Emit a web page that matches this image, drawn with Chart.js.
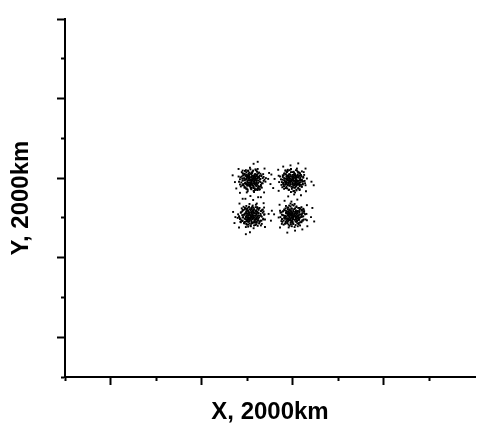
<!DOCTYPE html>
<html>
<head>
<meta charset="utf-8">
<script src="https://cdn.jsdelivr.net/npm/chart.js@4/dist/chart.umd.min.js"></script>
<style>
  html, body { margin: 0; padding: 0; background: #fff; }
  canvas { display: block; }
</style>
</head>
<body>
<canvas id="chart" width="479" height="430"></canvas>
<script>
// particle positions, one array per cloud, [x, y] in 2000 km units
const cloudNW = [
  [4.10,4.96],[4.14,4.92],[4.04,4.99],[4.18,5.02],[4.07,4.87],[4.21,4.94],[4.00,4.91],[4.11,5.06],[4.16,5.09],[4.03,5.05],
  [4.23,4.99],[3.97,4.96],[4.13,4.81],[4.06,4.80],[4.17,4.85],[4.02,4.82],[4.20,5.08],[3.99,5.09],[4.24,4.88],[3.96,4.89],
  [4.10,4.90],[4.13,5.01],[4.09,5.02],[4.17,4.95],[4.05,4.94],[4.14,5.05],[4.02,5.01],[4.21,5.05],[4.07,5.11],[4.18,4.81],
  [4.00,5.03],[4.11,4.85],[4.16,4.89],[4.06,4.95],[4.20,4.98],[4.03,4.88],[4.22,4.84],[3.98,4.85],[4.10,5.12],[4.14,4.78],
  [4.09,4.93],[4.18,5.10],[3.99,4.99],[4.12,4.96],[4.04,5.08],[4.24,5.03],[3.96,5.06],[4.17,5.00],[4.07,4.83],[4.21,4.80],
  [4.11,4.99],[4.02,4.94],[4.15,5.03],[4.06,5.02],[4.20,4.90],[4.00,4.81],[4.10,4.84],[4.22,5.09],[4.03,5.12],[4.14,4.87],
  [4.29,4.98],[3.90,4.94],[4.13,5.19],[4.09,4.72],[4.26,5.14],[3.93,5.11],[4.25,4.75],[3.94,4.76],[4.34,4.87],[3.85,5.02],
  [4.18,5.22],[4.01,4.67],[4.31,5.07],[3.89,4.82],[4.22,4.70],[3.97,5.20],[4.38,4.96],[3.82,4.91],[4.15,4.65],[4.06,5.26],
  [4.27,4.92],[3.94,4.99],[4.30,4.80],[3.91,5.07],[4.11,5.15],[4.10,4.76],[4.35,5.10],[3.86,4.79],[4.21,5.17],[3.98,4.73],
  [4.32,4.76],[3.88,5.15],[4.40,4.91],[3.81,5.04],[4.26,5.02],[3.95,4.87],[4.17,4.74],[4.02,5.18],[4.36,5.03],[3.84,4.84],
  [4.23,5.23],[3.99,4.64],[4.28,4.72],[3.90,5.19],[4.41,5.00],[4.46,4.98],[3.73,4.90],[4.14,5.36],[4.07,4.55],[4.38,5.24],
  [3.81,5.23],[4.37,4.64],[3.84,4.63],[4.51,4.85],[3.68,5.07],[4.23,5.41],[3.96,4.48],[4.48,5.13],[3.76,4.74],[4.30,4.52],
  [4.01,5.07],[4.21,5.08],[3.97,4.86],[4.22,4.84],[3.93,5.00],[4.28,4.97],[4.05,5.14],[4.14,4.75],[3.95,5.10],[4.24,5.12],
  [3.94,4.79],[4.25,4.80],[3.90,4.94],[4.29,4.90],[4.08,4.74],[4.12,5.17],[4.03,5.00],[4.16,4.98],[4.06,4.89],[4.15,4.91],
  [3.99,5.03],[4.19,5.04],[4.00,4.83],[4.20,4.86],[3.88,5.04],[4.31,5.05],[3.91,4.85],[4.30,4.83],[4.02,5.19],[4.19,5.20],
  [4.01,4.71],[4.17,4.70],[3.97,4.97],[4.24,4.94],[4.09,5.09],[4.11,4.82],[3.92,5.07],[4.27,5.06],[3.96,4.76],[4.23,4.75],
  [4.04,5.05],[4.17,5.09],[4.05,4.80],[4.16,4.85],[3.87,4.89],[4.34,5.00],[3.98,5.15],[4.22,5.16],[3.99,4.74],[4.21,4.72],
  [4.07,4.97],[4.12,4.95],[4.09,4.92],[4.13,4.98],[3.94,4.95],[4.26,5.02],[4.10,5.13],[4.07,4.77],[3.90,5.12],[4.29,5.11],
  [3.92,4.82],[4.28,4.78],[3.84,4.97],[4.36,4.93],[4.07,5.22],[4.14,4.68],[4.02,4.95],[4.18,4.96],[4.10,5.04],[4.09,4.87],
  [3.98,5.05],[4.23,5.01],[4.01,4.88],[4.20,4.89],[3.89,4.99],[4.32,4.87],[4.04,4.84],[4.15,5.06],[3.95,5.18],[4.26,4.71]
];
const cloudNE = [
  [5.01,4.95],[4.97,4.91],[5.04,5.01],[5.07,4.87],[4.92,4.98],[4.99,4.84],[4.96,5.05],[5.11,4.94],[5.14,4.89],[5.10,5.02],
  [5.04,4.82],[5.01,5.08],[4.86,4.92],[4.85,4.99],[4.90,4.88],[4.87,5.03],[5.13,4.85],[5.14,5.06],[4.93,4.81],[4.94,5.09],
  [4.95,4.95],[5.06,4.92],[5.07,4.96],[5.00,4.88],[4.99,5.00],[5.10,4.91],[5.06,5.03],[5.10,4.84],[5.16,4.98],[4.86,4.87],
  [5.08,5.05],[4.90,4.94],[4.94,4.89],[5.00,4.99],[5.03,4.85],[4.93,5.02],[4.89,4.83],[4.90,5.07],[5.17,4.95],[4.83,4.91],
  [4.98,4.96],[5.15,4.87],[5.04,5.06],[5.01,4.93],[5.13,5.01],[5.08,4.81],[5.11,5.09],[5.05,4.88],[4.88,4.98],[4.85,4.84],
  [5.04,4.94],[4.99,5.03],[5.08,4.90],[5.07,4.99],[4.95,4.85],[4.86,5.05],[4.89,4.95],[5.14,4.83],[5.17,5.02],[4.92,4.91],
  [5.03,4.76],[4.99,5.15],[5.24,4.92],[4.77,4.96],[5.19,4.79],[5.16,5.12],[4.80,4.80],[4.81,5.11],[4.92,4.71],[5.07,5.20],
  [5.27,4.87],[4.72,5.04],[5.12,4.74],[4.87,5.16],[4.75,4.83],[5.25,5.08],[5.01,4.67],[4.96,5.23],[4.70,4.90],[5.31,4.99],
  [4.97,4.78],[5.04,5.11],[4.85,4.75],[5.12,5.14],[5.20,4.94],[4.81,4.95],[5.15,4.70],[4.84,5.19],[5.22,4.84],[4.78,5.07],
  [4.81,4.73],[5.20,5.17],[4.96,4.65],[5.09,5.24],[5.07,4.79],[4.92,5.10],[4.79,4.88],[5.23,5.03],[5.08,4.69],[4.89,5.21],
  [5.28,4.82],[4.69,5.06],[4.77,4.77],[5.24,5.15],[5.05,4.64],[5.03,4.59],[4.95,5.32],[5.41,4.91],[4.60,4.98],[5.29,4.67],
  [5.28,5.24],[4.69,4.68],[4.68,5.21],[4.90,4.54],[5.12,5.37],[5.46,4.82],[4.53,5.09],[5.18,4.57],[4.79,5.29],[4.57,4.75],
  [5.09,4.83],[4.89,4.82],[5.13,5.04],[4.88,5.06],[5.17,4.90],[4.82,4.93],[5.05,4.76],[4.96,5.15],[5.15,4.80],[4.86,4.78],
  [5.16,5.11],[4.85,5.10],[5.20,4.96],[4.81,5.00],[5.02,5.16],[4.98,4.73],[5.07,4.90],[4.94,4.92],[5.04,5.01],[4.95,4.99],
  [5.11,4.87],[4.91,4.86],[5.10,5.07],[4.90,5.04],[5.22,4.86],[4.79,4.85],[5.19,5.05],[4.80,5.07],[5.08,4.71],[4.91,4.70],
  [5.09,5.19],[4.93,5.20],[5.13,4.93],[4.86,4.96],[5.01,4.81],[4.99,5.08],[5.18,4.83],[4.83,4.84],[5.14,5.14],[4.87,5.15],
  [5.06,4.85],[4.93,4.81],[5.05,5.10],[4.94,5.05],[5.23,5.01],[4.76,4.90],[5.12,4.75],[4.88,4.74],[5.11,5.16],[4.89,5.18],
  [5.03,4.93],[4.98,4.95],[5.01,4.98],[4.97,4.92],[5.16,4.95],[4.84,4.88],[5.00,4.77],[5.03,5.13],[5.20,4.78],[4.81,4.79],
  [5.18,5.08],[4.82,5.12],[5.26,4.93],[4.74,4.97],[5.03,4.68],[4.96,5.22],[5.08,4.95],[4.92,4.94],[5.00,4.86],[5.01,5.03],
  [5.12,4.85],[4.87,4.89],[5.09,5.02],[4.90,5.01],[5.21,4.91],[4.78,5.03],[5.06,5.06],[4.95,4.84],[5.15,4.72],[4.84,5.19]
];
const cloudSW = [
  [4.10,4.04],[4.06,4.08],[4.16,4.01],[4.02,3.98],[4.13,4.13],[3.99,4.06],[4.20,4.09],[4.09,3.94],[4.04,3.91],[4.17,3.95],
  [3.97,4.01],[4.23,4.04],[4.07,4.19],[4.14,4.20],[4.03,4.15],[4.18,4.18],[4.00,3.92],[4.21,3.91],[3.96,4.12],[4.24,4.11],
  [4.10,4.10],[4.07,3.99],[4.11,3.98],[4.03,4.05],[4.15,4.06],[4.06,3.95],[4.18,3.99],[3.99,3.95],[4.13,3.89],[4.02,4.19],
  [4.20,3.97],[4.09,4.15],[4.04,4.11],[4.14,4.05],[4.00,4.02],[4.17,4.12],[3.98,4.16],[4.22,4.15],[4.10,3.88],[4.06,4.22],
  [4.11,4.07],[4.02,3.90],[4.21,4.01],[4.08,4.04],[4.16,3.92],[3.96,3.97],[4.24,3.94],[4.03,4.00],[4.13,4.17],[3.99,4.20],
  [4.09,4.01],[4.18,4.06],[4.05,3.97],[4.14,3.98],[4.00,4.10],[4.20,4.19],[4.10,4.16],[3.98,3.91],[4.17,3.88],[4.06,4.13],
  [3.91,4.02],[4.30,4.06],[4.07,3.81],[4.11,4.28],[3.94,3.86],[4.27,3.89],[3.95,4.25],[4.26,4.24],[3.86,4.13],[4.35,3.98],
  [4.02,3.78],[4.19,4.33],[3.89,3.93],[4.31,4.18],[3.98,4.30],[4.23,3.80],[3.82,4.04],[4.38,4.09],[4.05,4.35],[4.14,3.74],
  [3.93,4.08],[4.26,4.01],[3.90,4.20],[4.29,3.93],[4.09,3.85],[4.10,4.24],[3.85,3.90],[4.34,4.21],[3.99,3.83],[4.22,4.27],
  [3.88,4.24],[4.32,3.85],[3.80,4.09],[4.39,3.96],[3.94,3.98],[4.25,4.13],[4.03,4.26],[4.18,3.82],[3.84,3.97],[4.36,4.16],
  [3.97,3.77],[4.21,4.36],[3.92,4.28],[4.30,3.81],[3.79,4.00],[3.74,4.02],[4.47,4.10],[4.06,3.64],[4.13,4.45],[3.82,3.76],
  [4.39,3.77],[3.83,4.36],[4.36,4.37],[3.69,4.15],[4.52,3.93],[3.97,3.59],[4.24,4.52],[3.72,3.87],[4.37,4.26],[3.90,4.48],
  [4.22,4.14],[4.23,3.94],[4.01,4.18],[3.99,3.93],[4.15,4.22],[4.12,3.87],[4.29,4.10],[3.90,4.01],[4.25,4.20],[4.27,3.91],
  [3.94,4.21],[3.95,3.90],[4.09,4.25],[4.05,3.86],[3.89,4.07],[4.32,4.03],[4.15,4.12],[4.13,3.99],[4.04,4.09],[4.06,4.00],
  [4.18,4.16],[4.19,3.96],[3.98,4.15],[4.01,3.95],[4.19,4.27],[4.20,3.84],[4.00,4.24],[3.98,3.85],[4.34,4.13],[4.35,3.96],
  [3.86,4.14],[3.85,3.98],[4.12,4.18],[4.09,3.91],[4.24,4.06],[3.97,4.04],[4.22,4.23],[4.21,3.88],[3.91,4.19],[3.90,3.92],
  [4.20,4.11],[4.24,3.98],[3.95,4.10],[4.00,3.99],[4.04,4.28],[4.15,3.81],[4.30,4.17],[4.31,3.93],[3.89,4.16],[3.87,3.94],
  [4.12,4.08],[4.10,4.03],[4.07,4.06],[4.13,4.02],[4.10,4.21],[4.17,3.89],[4.28,4.05],[3.92,4.08],[4.27,4.25],[4.26,3.86],
  [3.97,4.23],[3.93,3.87],[4.12,4.31],[4.08,3.79],[4.37,4.08],[3.83,4.01],[4.10,4.13],[4.11,3.97],[4.19,4.05],[4.02,4.06],
  [4.20,4.17],[4.16,3.92],[4.03,4.14],[4.04,3.95],[4.14,4.26],[4.02,3.83],[3.99,4.11],[4.21,4.00],[4.33,4.20],[3.86,3.89]
];
const cloudSE = [
  [4.99,4.05],[5.03,4.09],[4.96,3.99],[4.93,4.13],[5.08,4.02],[5.01,4.16],[5.04,3.95],[4.89,4.06],[4.86,4.11],[4.90,3.98],
  [4.96,4.18],[4.99,3.92],[5.14,4.08],[5.15,4.01],[5.10,4.12],[5.13,3.97],[4.87,4.15],[4.86,3.94],[5.07,4.19],[5.06,3.91],
  [5.05,4.05],[4.94,4.08],[4.93,4.04],[5.00,4.12],[5.01,4.00],[4.90,4.09],[4.94,3.97],[4.90,4.16],[4.84,4.02],[5.14,4.13],
  [4.92,3.95],[5.10,4.06],[5.06,4.11],[5.00,4.01],[4.97,4.15],[5.07,3.98],[5.11,4.17],[5.10,3.93],[4.83,4.05],[5.17,4.09],
  [5.02,4.04],[4.85,4.13],[4.96,3.94],[4.99,4.07],[4.87,3.99],[4.92,4.19],[4.89,3.91],[4.95,4.12],[5.12,4.02],[5.15,4.16],
  [4.96,4.06],[5.01,3.97],[4.92,4.10],[4.93,4.01],[5.05,4.15],[5.14,3.95],[5.11,4.05],[4.86,4.17],[4.83,3.98],[5.08,4.09],
  [4.97,4.24],[5.01,3.85],[4.76,4.08],[5.23,4.04],[4.81,4.21],[4.84,3.88],[5.20,4.20],[5.19,3.89],[5.08,4.29],[4.93,3.80],
  [4.73,4.13],[5.28,3.96],[4.88,4.26],[5.13,3.84],[5.25,4.17],[4.75,3.92],[4.99,4.33],[5.04,3.77],[5.30,4.10],[4.69,4.01],
  [5.03,4.22],[4.96,3.89],[5.15,4.25],[4.88,3.86],[4.80,4.06],[5.19,4.05],[4.85,4.30],[5.16,3.81],[4.78,4.16],[5.22,3.93],
  [5.19,4.27],[4.80,3.83],[5.04,4.35],[4.91,3.76],[4.93,4.21],[5.08,3.90],[5.21,4.12],[4.77,3.97],[4.92,4.31],[5.11,3.79],
  [4.72,4.18],[5.31,3.94],[5.23,4.23],[4.76,3.85],[4.95,4.36],[4.97,4.41],[5.05,3.68],[4.59,4.09],[5.40,4.02],[4.71,4.33],
  [4.72,3.76],[5.31,4.32],[5.32,3.79],[5.10,4.46],[4.88,3.63],[4.54,4.18],[5.47,3.91],[4.82,4.43],[5.21,3.71],[5.43,4.25],
  [4.88,3.96],[4.87,4.16],[5.09,3.92],[5.11,4.17],[4.95,3.88],[4.98,4.23],[4.81,4.00],[5.20,4.09],[4.85,3.90],[4.83,4.19],
  [5.16,3.89],[5.15,4.20],[5.01,3.85],[5.05,4.24],[5.21,4.03],[4.78,4.07],[4.95,3.98],[4.97,4.11],[5.06,4.01],[5.04,4.10],
  [4.92,3.94],[4.91,4.14],[5.12,3.95],[5.09,4.15],[4.91,3.83],[4.90,4.26],[5.10,3.86],[5.12,4.25],[4.76,3.97],[4.75,4.14],
  [5.24,3.96],[5.25,4.12],[4.98,3.92],[5.01,4.19],[4.86,4.04],[5.13,4.06],[4.88,3.87],[4.89,4.22],[5.19,3.91],[5.20,4.18],
  [4.90,3.99],[4.86,4.12],[5.15,4.00],[5.10,4.11],[5.06,3.82],[4.95,4.29],[4.80,3.93],[4.79,4.17],[5.21,3.94],[5.23,4.16],
  [4.98,4.02],[5.00,4.07],[5.03,4.04],[4.97,4.08],[5.00,3.89],[4.93,4.21],[4.82,4.05],[5.18,4.02],[4.83,3.85],[4.84,4.24],
  [5.13,3.87],[5.17,4.23],[4.98,3.79],[5.02,4.31],[4.73,4.02],[5.27,4.09],[5.00,3.97],[4.99,4.13],[4.91,4.05],[5.08,4.04],
  [4.90,3.93],[4.94,4.18],[5.07,3.96],[5.06,4.15],[4.96,3.84],[5.08,4.27],[5.11,3.99],[4.89,4.10],[4.77,3.90],[5.24,4.21]
];

const clouds = [cloudNW, cloudNE, cloudSW, cloudSE];

const axisMax = 9;

const titleFont = { family: 'Liberation Sans, Arial, sans-serif', size: 24, weight: 'bold', lineHeight: 1.2 };

// odd values get the long tick, even ones the short one
const isMajor = (ctx) => ctx.tick && Math.round(ctx.tick.value) % 2 === 1;

new Chart(document.getElementById('chart'), {
  type: 'scatter',
  data: {
    datasets: clouds.map((pts) => ({
      data: pts.map(([x, y]) => ({ x, y })),
      pointStyle: 'rect',
      pointRadius: 1.35,
      pointBorderWidth: 0,
      backgroundColor: '#000',
    })),
  },
  options: {
    responsive: false,
    animation: false,
    layout: { padding: { top: 19, right: 0, bottom: 0, left: 0 } },
    plugins: { legend: { display: false }, tooltip: { enabled: false } },
    scales: {
      x: {
        type: 'linear',
        min: 0,
        max: axisMax,
        ticks: { display: false, stepSize: 1 },
        grid: {
          drawOnChartArea: false,
          tickLength: 8,
          tickWidth: 2,
          // the axis runs off the right edge, so no mark at its end
          tickColor: (ctx) => (ctx.tick && ctx.tick.value === axisMax ? 'rgba(0,0,0,0)' : '#000'),
          tickBorderDash: (ctx) => (isMajor(ctx) ? [] : [3, 20]),
        },
        border: { color: '#000', width: 2 },
        title: {
          display: true,
          text: 'X, 2000km',
          color: '#000',
          font: titleFont,
          padding: { top: 12.6, bottom: 3.6 },
        },
      },
      y: {
        type: 'linear',
        min: 0,
        max: axisMax,
        ticks: { display: false, stepSize: 1 },
        grid: {
          drawOnChartArea: false,
          tickLength: 8,
          tickWidth: 2,
          tickColor: '#000',
          tickBorderDash: (ctx) => (isMajor(ctx) ? [] : [3, 4]),
          tickBorderDashOffset: (ctx) => (isMajor(ctx) ? 0 : 3),
        },
        border: { color: '#000', width: 2 },
        title: {
          display: true,
          text: 'Y, 2000km',
          color: '#000',
          font: titleFont,
          padding: { top: 6.6, bottom: 21.6 },
        },
      },
    },
  },
});
</script>
</body>
</html>
